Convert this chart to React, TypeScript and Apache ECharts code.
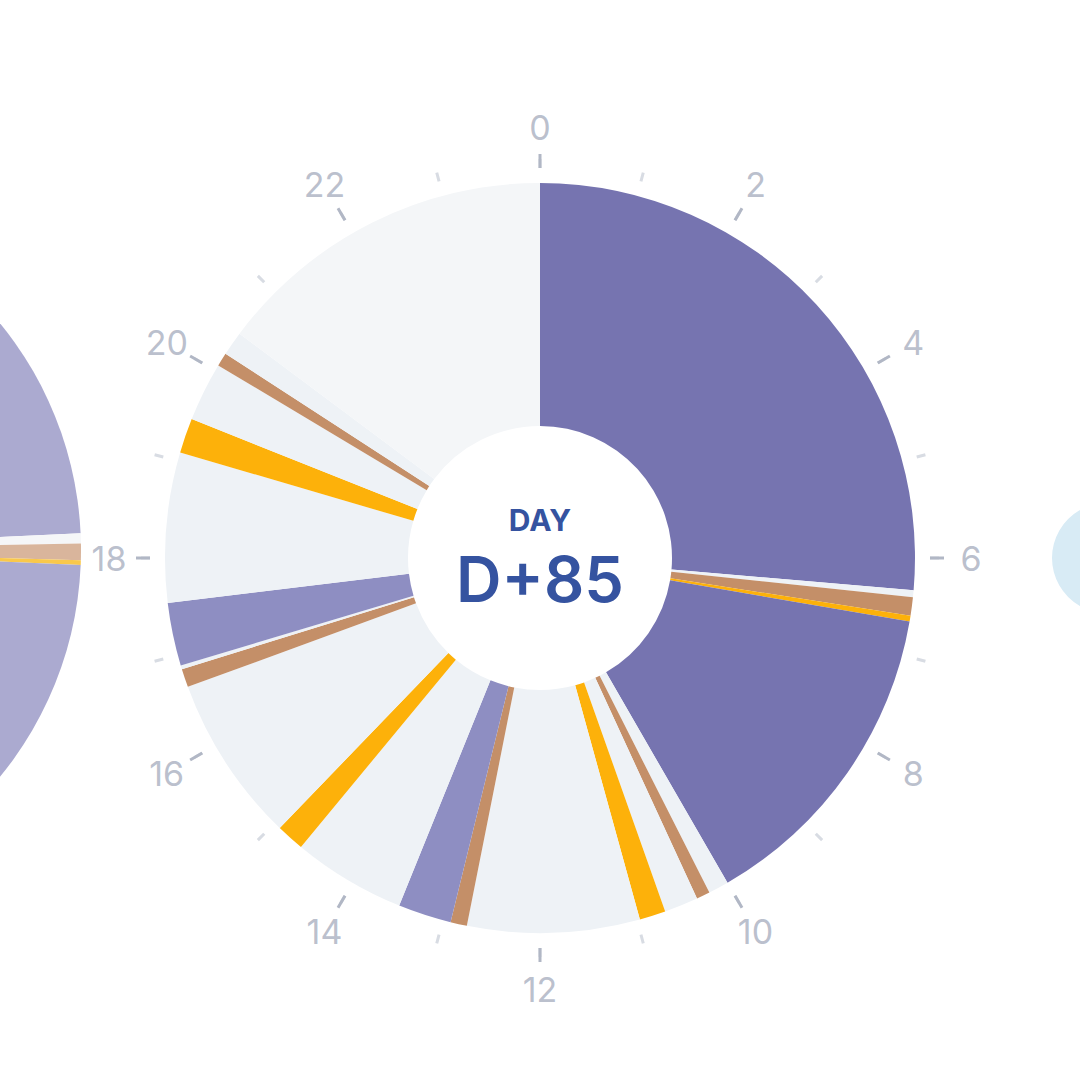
import React, { useEffect, useRef } from "react";
import * as echarts from "echarts";

// ---- data (hours of the day, 0–24) ----
const segmentTypes = [
  "sleep", "gap", "brown", "yellow", "sleep", "gap", "brown", "gap", "yellow", "gap",
  "brown", "nap", "gap", "yellow", "gap", "brown", "gap", "nap", "gap", "yellow",
  "gap", "brown", "gap", "idle",
];
const segmentHours = [
  6.33, 0.07, 0.19, 0.06, 3.35, 0.21, 0.14, 0.35, 0.27, 1.78,
  0.17, 0.55, 1.17, 0.29, 1.73, 0.19, 0.04, 0.65, 1.55, 0.36,
  0.61, 0.14, 0.25, 3.55,
];
const typeColors: Record<string, string> = {
  sleep: "#7674b0",
  nap: "#8e8ec2",
  brown: "#c48f68",
  yellow: "#fdb10a",
  gap: "#eef2f6",
  idle: "#f4f6f8",
};

// neighbouring (previous day) clock, partially visible on the left
const prevTypes = ["sleep", "gap", "brown", "yellow", "sleep"];
const prevHours = [5.82, 0.11, 0.18, 0.05, 17.84];
const prevColors: Record<string, string> = {
  sleep: "#abaad0",
  gap: "#f5f6f8",
  brown: "#d9b59c",
  yellow: "#f9c84b",
};

const hourLabels = [0, 2, 4, 6, 8, 10, 12, 14, 16, 18, 20, 22];
const dayTitle = "DAY";
const dayValue = "D+85";

export default function App() {
  const ref = useRef<HTMLDivElement>(null);
  useEffect(() => {
    if (!ref.current) return;
    const chart = echarts.init(ref.current, undefined, { renderer: "svg" });
    const C: [number, number] = [540, 558];
    const hiddenRadius = (max: number) => ({ show: false, min: 0, max });
    const option: any = {
      animation: false,
      backgroundColor: "#ffffff",
      polar: [
        { center: C, radius: 390 },
        { center: C, radius: 390 },
        { center: C, radius: 431 },
      ],
      angleAxis: [
        {
          polarIndex: 0, type: "value", min: 0, max: 24, interval: 1, startAngle: 90, clockwise: true,
          axisLine: { show: false }, splitLine: { show: false }, axisLabel: { show: false },
          axisTick: { show: true, length: 9, lineStyle: { color: "#d8dce3", width: 3 } }, z: 1,
        },
        {
          polarIndex: 1, type: "value", min: 0, max: 24, interval: 2, startAngle: 90, clockwise: true,
          axisLine: { show: false }, splitLine: { show: false }, axisLabel: { show: false },
          axisTick: { show: true, length: 14, lineStyle: { color: "#b1b7c5", width: 3 } }, z: 2,
        },
        {
          polarIndex: 2, type: "value", min: 0, max: 24, startAngle: 90, clockwise: true, show: false,
        },
      ],
      radiusAxis: [
        { polarIndex: 0, ...hiddenRadius(390) },
        { polarIndex: 1, ...hiddenRadius(390) },
        { polarIndex: 2, ...hiddenRadius(431) },
      ],
      graphic: [
        {
          type: "text", x: C[0], y: 520,
          style: {
            text: dayTitle, fill: "#3553a0", fontSize: 30, fontWeight: 700, fontFamily: "Inter",
            align: "center", verticalAlign: "middle", textAlign: "center", textVerticalAlign: "middle",
          },
        },
        {
          type: "text", x: C[0], y: 579,
          style: {
            text: dayValue, fill: "#3553a0", fontSize: 63, fontWeight: 600, fontFamily: "Inter",
            align: "center", verticalAlign: "middle", textAlign: "center", textVerticalAlign: "middle",
          },
        },
      ],
      series: [
        {
          type: "pie", silent: true, center: [-277, 550], radius: [0, 358], startAngle: 90, clockwise: true,
          label: { show: false }, labelLine: { show: false },
          data: prevHours.map((v, i) => ({ value: v, name: "p" + i, itemStyle: { color: prevColors[prevTypes[i]] } })),
        },
        {
          type: "pie", silent: true, center: [1107, 558], radius: [0, 55],
          label: { show: false }, labelLine: { show: false },
          data: [{ value: 1, name: "next", itemStyle: { color: "#d8ebf5" } }],
        },
        {
          type: "pie", silent: true, center: C, radius: [132, 375], startAngle: 90, clockwise: true,
          label: { show: false }, labelLine: { show: false },
          itemStyle: { borderWidth: 0 },
          data: segmentHours.map((v, i) => ({
            value: v, name: segmentTypes[i] + i, itemStyle: { color: typeColors[segmentTypes[i]] },
          })),
        },
        {
          type: "scatter", coordinateSystem: "polar", polarIndex: 2, silent: true,
          symbolSize: 1, itemStyle: { color: "rgba(0,0,0,0)" },
          label: {
            show: true, position: "inside", color: "#a9afbf", fontSize: 34, fontFamily: "Inter",
            formatter: (p: any) => String(p.value[1]),
          },
          data: hourLabels.map((h) => [431, h]),
        },
      ],
    };
    chart.setOption(option);
    return () => chart.dispose();
  }, []);
  return (
    <div
      ref={ref}
      style={{ position: "fixed", left: 0, top: 0, width: 1080, height: 1080, background: "#fff" }}
    />
  );
}
